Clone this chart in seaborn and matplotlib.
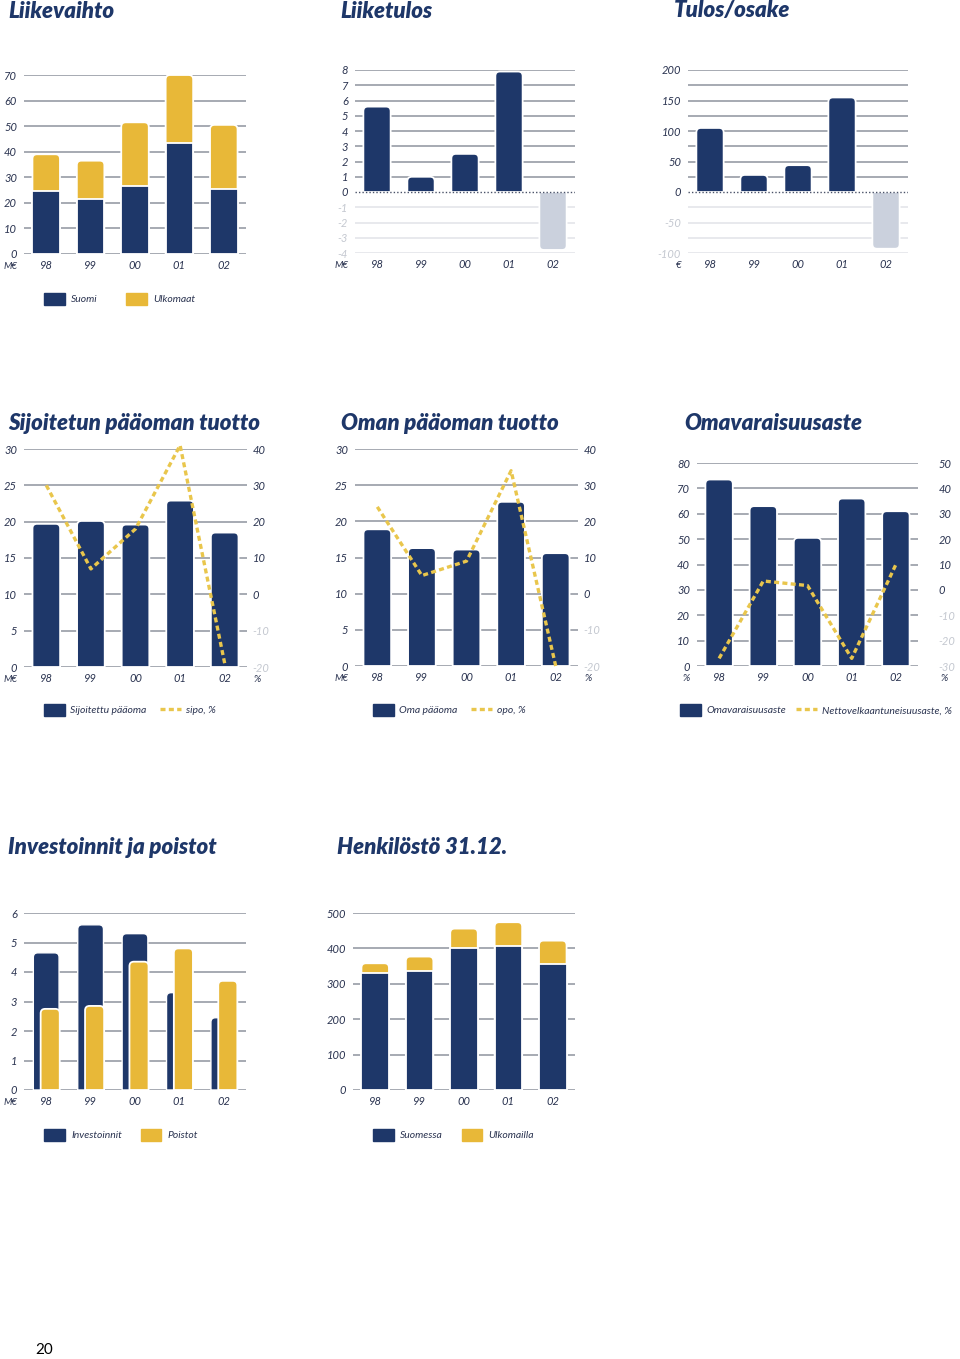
import numpy as np
import pandas as pd
import matplotlib.pyplot as plt
import seaborn as sns
from matplotlib.patches import Patch, PathPatch
from matplotlib.lines import Line2D
from matplotlib.path import Path

years = ['98', '99', '00', '01', '02']

# Liikevaihto, M€
lv_suomi = [24.5, 21.5, 26.5, 43.5, 25.5]
lv_ulkomaat = [14.5, 15.0, 25.0, 26.5, 25.0]
# Liiketulos, M€
liiketulos = [5.6, 1.0, 2.5, 7.9, -3.8]
# Tulos/osake, €
tulos_osake = [105, 28, 44, 155, -93]
# Sijoitetun pääoman tuotto
sijoitettu = [19.7, 20.1, 19.6, 22.9, 18.5]
sipo = [30, 7, 18, 41, -19]
# Oman pääoman tuotto
oma_paaoma = [18.9, 16.3, 16.1, 22.7, 15.6]
opo = [24, 5, 9, 34, -20]
# Omavaraisuusaste
omavar = [73.5, 63, 50.5, 66, 61]
nettovelka = [-27, 3.5, 1.7, -27, 10]
# Investoinnit ja poistot
investoinnit = [4.65, 5.6, 5.3, 3.3, 2.45]
poistot = [2.75, 2.85, 4.35, 4.8, 3.7]
# Henkilöstö 31.12.
hk_suomessa = [330, 335, 400, 408, 355]
hk_ulkomailla = [28, 42, 56, 66, 67]

NAVY = '#1e3769'
YELLOW = '#e8b838'
DASH = '#e9c64c'
GREYBAR = '#cbd1dd'
GRID = '#8e939e'
GRID_LIGHT = '#e1e3e8'
TXT = '#2a3350'
NEG = '#c4c8d0'

sns.set_style('white')
plt.rcParams['font.family'] = ['Lato', 'DejaVu Sans']

W, H = 960, 1359
fig = plt.figure(figsize=(W / 100, H / 100), dpi=100)


def px_axes(x0, x1, ytop, ybot):
    return fig.add_axes([x0 / W, 1 - ybot / H, (x1 - x0) / W, (ybot - ytop) / H])


def round_tops(ax, patches, r=4.5):
    # swap the flat bar ends for rounded corners (top for positive bars, bottom for negative)
    x0, x1 = ax.get_xlim()
    y0, y1 = ax.get_ylim()
    rx = r * (x1 - x0) / ax.bbox.width
    ry = r * (y1 - y0) / ax.bbox.height
    for p in patches:
        x, y, w, h = p.get_x(), p.get_y(), p.get_width(), p.get_height()
        if h == 0:
            continue
        s = 1 if h > 0 else -1
        top = y + h
        rr = min(ry, abs(h))
        verts = [(x, y), (x, top - s * rr), (x, top), (x + rx, top),
                 (x + w - rx, top), (x + w, top), (x + w, top - s * rr),
                 (x + w, y), (x, y)]
        codes = [Path.MOVETO, Path.LINETO, Path.CURVE3, Path.CURVE3,
                 Path.LINETO, Path.CURVE3, Path.CURVE3, Path.LINETO, Path.CLOSEPOLY]
        pp = PathPatch(Path(verts, codes), facecolor=p.get_facecolor(),
                       edgecolor=p.get_edgecolor(), lw=p.get_linewidth(),
                       zorder=p.get_zorder())
        p.set_visible(False)
        ax.add_patch(pp)


def style(ax, ylim, ticks, grid, unit=None, zero_dotted=False):
    ax.set_xlim(-0.5, 4.5)
    ax.set_ylim(*ylim)
    for s in ax.spines.values():
        s.set_visible(False)
    for g in grid:
        if zero_dotted and g == 0:
            ax.axhline(g, color='#4a5268', lw=1.0, ls=(0, (1, 1.5)), zorder=5)
        else:
            ax.axhline(g, color=GRID_LIGHT if g < 0 else GRID, lw=1.1, zorder=0)
    ax.set_yticks(ticks)
    ax.set_yticklabels([str(t) for t in ticks])
    ax.set_xticks(range(5))
    ax.set_xticklabels(years)
    ax.set_xlabel('')
    ax.set_ylabel('')
    ax.tick_params(length=0, labelsize=8, colors=TXT)
    ax.tick_params(axis='y', pad=5)
    ax.tick_params(axis='x', pad=4)
    for lab, t in zip(ax.get_yticklabels(), ticks):
        lab.set_color(NEG if t < 0 else TXT)
    for lab in ax.get_xticklabels() + ax.get_yticklabels():
        lab.set_fontstyle('italic')
    if unit:
        ax.annotate(unit, xy=(0, 0), xycoords='axes fraction', xytext=(-5, -9),
                    textcoords='offset points', ha='right', va='center',
                    fontsize=7, style='italic', color=TXT)


def right_axis(ax, ylim, ticks, pad):
    ax2 = ax.twinx()
    ax2.set_ylim(*ylim)
    for s in ax2.spines.values():
        s.set_visible(False)
    ax2.set_yticks(ticks)
    ax2.set_yticklabels([str(t) for t in ticks])
    ax2.tick_params(length=0, labelsize=8, pad=pad)
    for lab, t in zip(ax2.get_yticklabels(), ticks):
        lab.set_color(NEG if t < 0 else TXT)
        lab.set_fontstyle('italic')
    ax2.annotate('%', xy=(1, 0), xycoords='axes fraction', xytext=(pad + 1, -9),
                 textcoords='offset points', ha='left', va='center',
                 fontsize=7, style='italic', color=TXT)
    return ax2


def dashed_line(ax2, values):
    sns.lineplot(x=np.arange(5), y=values, ax=ax2, color=DASH, lw=2.4,
                 dashes=False, clip_on=False)
    ax2.lines[-1].set_linestyle((0, (1.5, 1.0)))
    ax2.set_xlim(-0.5, 4.5)


def title(x, y, text):
    fig.text(x / W, 1 - y / H, text, fontsize=16, fontweight='heavy', style='italic',
             color=NAVY, va='center', ha='left')


def legend(x, y, handles, labels, colsp=2.6, textpad=0.6):
    fig.legend(handles, labels, loc='center left', bbox_to_anchor=(x / W, 1 - y / H),
               ncol=len(handles), frameon=False, borderaxespad=0, borderpad=0,
               handlelength=2.0, handleheight=1.5, handletextpad=textpad,
               columnspacing=colsp, prop={'size': 7.5, 'style': 'italic'},
               labelcolor=TXT)


bar_kw = dict(edgecolor='white', linewidth=1.3, width=0.62, saturation=1)

# ---------- Top row ----------
ax = px_axes(24, 246, 75, 254)
lv_total = np.array(lv_suomi) + np.array(lv_ulkomaat)
sns.barplot(x=years, y=lv_total, ax=ax, color=YELLOW, zorder=2, **bar_kw)
sns.barplot(x=years, y=lv_suomi, ax=ax, color=NAVY, zorder=3, **bar_kw)
style(ax, (0, 70), list(range(0, 71, 10)), list(range(0, 71, 10)), unit='M€')
round_tops(ax, ax.patches[:5])

ax = px_axes(355, 575, 70, 253)
cols = [NAVY if v >= 0 else GREYBAR for v in liiketulos]
sns.barplot(x=years, y=liiketulos, hue=years, palette=cols, legend=False, ax=ax,
            zorder=2, **bar_kw)
style(ax, (-4, 8), list(range(-4, 9)), list(range(-4, 9)), unit='M€', zero_dotted=True)
round_tops(ax, list(ax.patches))

ax = px_axes(688, 908, 70, 253)
cols = [NAVY if v >= 0 else GREYBAR for v in tulos_osake]
sns.barplot(x=years, y=tulos_osake, hue=years, palette=cols, legend=False, ax=ax,
            zorder=2, **bar_kw)
style(ax, (-100, 200), list(range(-100, 201, 50)), list(range(-100, 201, 25)),
      unit='€', zero_dotted=True)
round_tops(ax, list(ax.patches))

title(8, 11, 'Liikevaihto')
title(340, 11, 'Liiketulos')
title(674, 11, 'Tulos/osake')
legend(44, 299, [Patch(color=NAVY), Patch(color=YELLOW)], ['Suomi', 'Ulkomaat'], colsp=2.7)

# ---------- Middle row ----------
line_handle = Line2D([], [], color=DASH, lw=2.4, ls=(0, (1.5, 1.0)))

ax = px_axes(24, 247, 449, 667)
sns.barplot(x=years, y=sijoitettu, ax=ax, color=NAVY, zorder=2, **bar_kw)
style(ax, (0, 30), list(range(0, 31, 5)), list(range(0, 31, 5)), unit='M€')
round_tops(ax, list(ax.patches))
ax2 = right_axis(ax, (-20, 40), list(range(-20, 41, 10)), 4)
dashed_line(ax2, sipo)

ax = px_axes(355, 578, 449, 666)
sns.barplot(x=years, y=oma_paaoma, ax=ax, color=NAVY, zorder=2, **bar_kw)
style(ax, (0, 30), list(range(0, 31, 5)), list(range(0, 31, 5)), unit='M€')
round_tops(ax, list(ax.patches))
ax2 = right_axis(ax, (-20, 40), list(range(-20, 41, 10)), 4)
dashed_line(ax2, opo)

ax = px_axes(697, 918, 463, 666)
sns.barplot(x=years, y=omavar, ax=ax, color=NAVY, zorder=2, **bar_kw)
style(ax, (0, 80), list(range(0, 81, 10)), list(range(0, 81, 10)), unit='%')
round_tops(ax, list(ax.patches))
ax2 = right_axis(ax, (-30, 50), list(range(-30, 51, 10)), 15)
dashed_line(ax2, nettovelka)

title(8, 423, 'Sijoitetun pääoman tuotto')
title(341, 423, 'Oman pääoman tuotto')
title(684, 423, 'Omavaraisuusaste')
legend(44, 710, [Patch(color=NAVY), line_handle], ['Sijoitettu pääoma', 'sipo, %'],
       colsp=1.3, textpad=0.5)
legend(373, 710, [Patch(color=NAVY), line_handle], ['Oma pääoma', 'opo, %'],
       colsp=1.3, textpad=0.5)
legend(680, 710, [Patch(color=NAVY), line_handle],
       ['Omavaraisuusaste', 'Nettovelkaantuneisuusaste, %'], colsp=1.0, textpad=0.5)

# ---------- Bottom row ----------
ax = px_axes(24, 246, 913, 1090)
sns.barplot(x=years, y=investoinnit, ax=ax, color=NAVY, zorder=2,
            edgecolor='white', linewidth=1.0, width=0.58, saturation=1)
n = len(ax.patches)
sns.barplot(x=years, y=poistot, ax=ax, color=YELLOW, zorder=3,
            edgecolor='white', linewidth=1.3, width=0.43, saturation=1)
for p in ax.patches[n:]:
    p.set_x(p.get_x() + 0.09)
style(ax, (0, 6), list(range(0, 7)), list(range(0, 7)), unit='M€')
round_tops(ax, list(ax.patches))

ax = px_axes(353, 575, 913, 1090)
hk_total = np.array(hk_suomessa) + np.array(hk_ulkomailla)
sns.barplot(x=years, y=hk_total, ax=ax, color=YELLOW, zorder=2, **bar_kw)
sns.barplot(x=years, y=hk_suomessa, ax=ax, color=NAVY, zorder=3, **bar_kw)
style(ax, (0, 500), list(range(0, 501, 100)), list(range(0, 501, 100)))
round_tops(ax, ax.patches[:5])

title(8, 847, 'Investoinnit ja poistot')
title(337, 847, 'Henkilöstö 31.12.')
legend(44, 1135, [Patch(color=NAVY), Patch(color=YELLOW)], ['Investoinnit', 'Poistot'],
       colsp=1.8)
legend(373, 1135, [Patch(color=NAVY), Patch(color=YELLOW)], ['Suomessa', 'Ulkomailla'],
       colsp=1.8)

fig.text(35 / W, 1 - 1350 / H, '20', fontsize=11, color='black', va='center', ha='left')

fig.savefig('out.png', dpi=100, facecolor='white')
